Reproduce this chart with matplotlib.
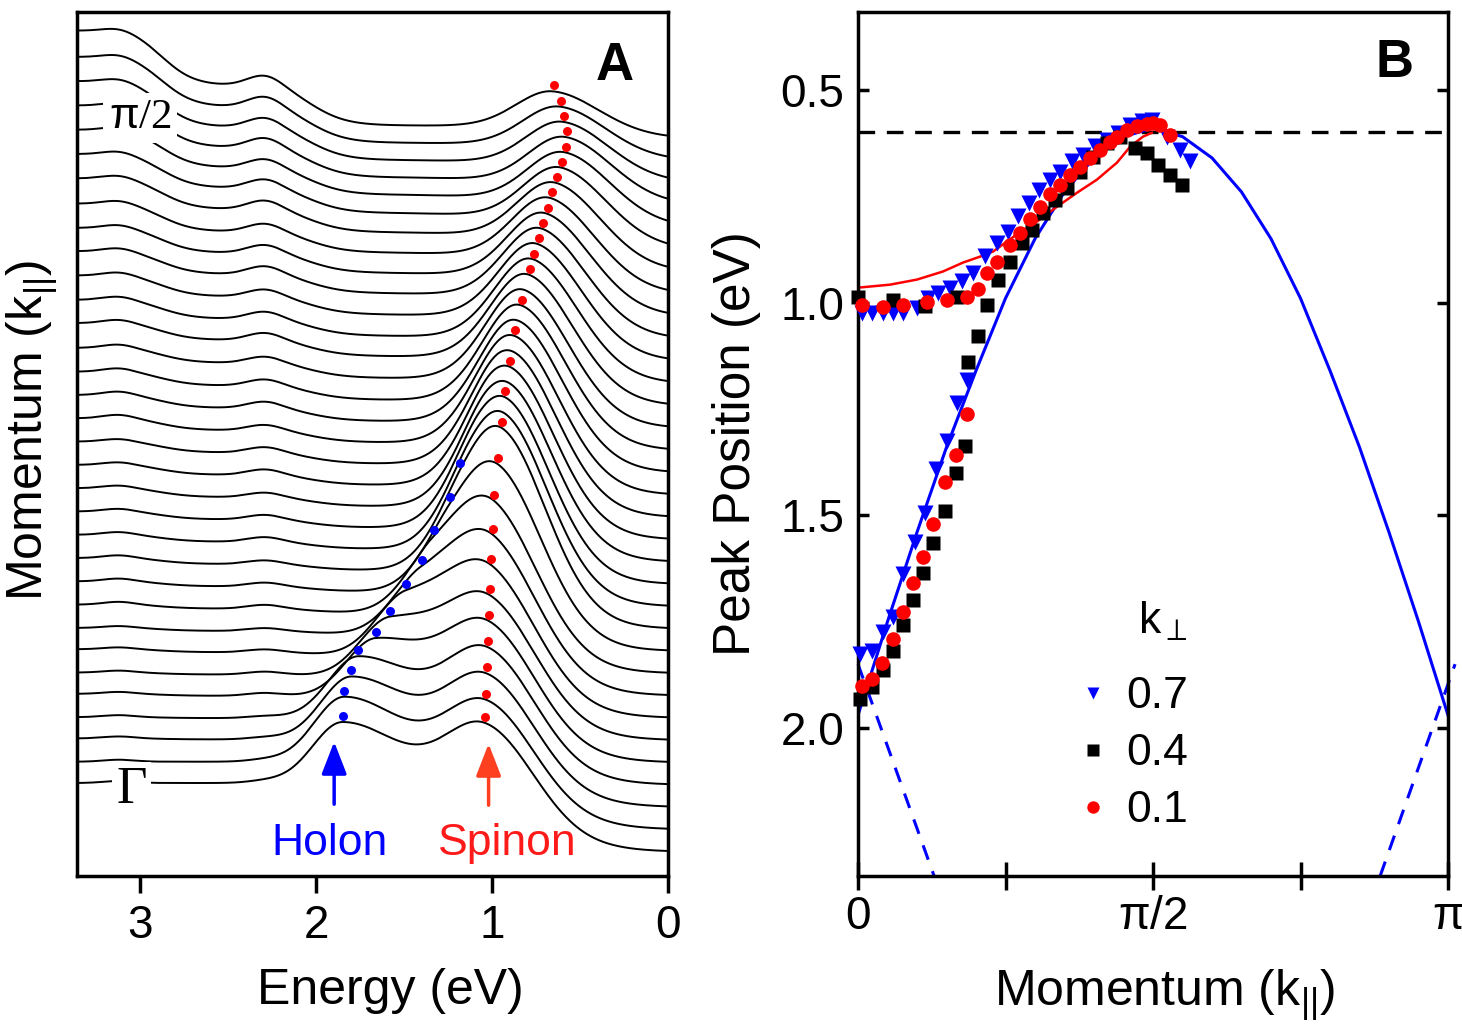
import numpy as np
import matplotlib
matplotlib.use("Agg")
import matplotlib.pyplot as plt
from matplotlib.lines import Line2D

plt.rcParams['font.family'] = ['Liberation Sans', 'DejaVu Sans']
plt.rcParams['mathtext.fontset'] = 'custom'
plt.rcParams['mathtext.rm'] = 'Liberation Sans'
plt.rcParams['mathtext.it'] = 'Liberation Sans'

# ====================== Panel A : EDC waterfall ======================
# one entry per curve, from Gamma (bottom, index 0) to beyond pi/2 (top)
spinon_E = [1.04, 1.035, 1.03, 1.025, 1.02, 1.01, 1.005, 0.995, 0.99, 0.966, 0.945,
            0.935, 0.925, 0.912, 0.90, 0.885, 0.87, 0.85, 0.83, 0.81, 0.785, 0.76,
            0.735, 0.71, 0.685, 0.66, 0.63, 0.60, 0.58, 0.575, 0.59, 0.61, 0.65]
holon_E = [1.85, 1.84, 1.80, 1.76, 1.66, 1.58, 1.49, 1.40, 1.33, 1.24, 1.18,
           1.12, 1.07, 1.02, 0.98, 0.945, 0.91, 0.875, 0.85, 0.83, 0.80, 0.775,
           0.75, 0.725, 0.70, 0.675, 0.645, 0.615, 0.595, 0.59, 0.60, 0.62, 0.655]
spinon_amp = [66.7, 68.5, 72.7, 76.9, 78.5, 79.1, 81.5, 85.3, 93.8, 111, 131,
              125.1, 119.7, 114.9, 110.9, 106.4, 101.8, 97.7, 93.5, 89.2, 85.2, 82.2,
              78.5, 74.7, 71.2, 66.7, 63.2, 58.8, 55, 49.7, 43.7, 38.8, 32.8]
holon_amp = [61, 65, 63.8, 62.7, 58.9, 57.6, 58.5, 53.5, 50.2, 39.5, 30.7,
             28, 26, 24, 22, 21, 20, 19, 18, 17, 16, 15,
             14, 13, 12, 12, 11, 11, 10, 10, 10, 9, 9]
bg_step = [69, 68, 67, 66, 65, 64, 63, 62, 61, 60, 59,
           58, 57, 56, 55, 54, 53, 52, 51, 50.5, 50, 48,
           47, 46, 44, 42, 40, 37, 33, 28, 23, 18, 13]
step_hi = [0, 0, 1, 1, 2, 2, 3, 3, 4, 5, 6,
           7, 8, 9, 10, 11, 12, 13, 14, 15, 17, 19,
           21, 23, 25, 28, 31, 34, 38, 42, 46, 50, 55]
step_mid = [0, 0, 1, 1, 2, 2, 3, 3, 4, 5, 6,
            7, 8, 9, 10, 11, 12, 13, 14, 15, 16, 17,
            18, 19, 20, 21, 23, 25, 27, 30, 33, 36, 40]
bump_hi = [2, 2, 2, 2, 2, 2, 2, 2, 3, 3, 3,
           3, 3, 3, 3, 3, 4, 4, 4, 4, 4, 4,
           4, 4, 4, 4, 4, 4, 4, 4, 4, 4, 4]
bump_mid = [2, 2, 2, 2, 3, 3, 3, 3, 4, 4, 4,
            5, 5, 5, 6, 6, 6, 7, 7, 7, 8, 8,
            8, 9, 9, 9, 10, 10, 10, 11, 11, 12, 12]
spinon_dot_curves = [0, 1, 2, 3, 4, 5, 6, 7, 8, 9, 10, 12, 14, 16, 18,
                     20, 21, 22, 23, 24, 25, 26, 27, 28, 29, 30, 31, 32]
holon_dot_curves = [0, 1, 2, 3, 4, 5, 6, 7, 8, 9, 10]
energy_ticks = [3, 2, 1, 0]

# ====================== Panel B : peak positions ======================
k07 = [0.007, 0.024, 0.042, 0.059, 0.077, 0.100, 0.119, 0.136, 0.156, 0.176, 0.195,
       0.215, 0.235, 0.255, 0.272, 0.289, 0.306, 0.325, 0.342, 0.362, 0.382, 0.402,
       0.422, 0.441, 0.461, 0.481, 0.498, 0.523, 0.546, 0.563,
       0.003, 0.023, 0.043, 0.060, 0.077, 0.097, 0.114, 0.132, 0.150, 0.167, 0.184]
E07 = [1.024, 1.024, 1.024, 1.024, 1.024, 1.012, 0.989, 0.977, 0.965, 0.950, 0.930,
       0.891, 0.860, 0.833, 0.797, 0.766, 0.735, 0.711, 0.692, 0.668, 0.653, 0.633,
       0.617, 0.602, 0.582, 0.574, 0.570, 0.610, 0.641, 0.668,
       1.826, 1.818, 1.775, 1.740, 1.638, 1.564, 1.494, 1.392, 1.326, 1.235, 1.181]
k04 = [0.000, 0.059, 0.114, 0.168, 0.219, 0.237, 0.258, 0.278, 0.295, 0.314, 0.334,
       0.354, 0.376, 0.398, 0.422, 0.444, 0.469, 0.490, 0.508, 0.529, 0.549,
       0.003, 0.024, 0.042, 0.059, 0.076, 0.093, 0.110, 0.127, 0.147, 0.166, 0.181,
       0.186, 0.203]
E04 = [0.986, 0.993, 1.009, 0.986, 1.005, 0.946, 0.904, 0.859, 0.829, 0.789, 0.758,
       0.730, 0.692, 0.657, 0.624, 0.610, 0.636, 0.648, 0.676, 0.700, 0.723,
       1.932, 1.904, 1.864, 1.820, 1.759, 1.700, 1.636, 1.566, 1.491, 1.401, 1.338,
       1.139, 1.078]
k01 = [0.007, 0.042, 0.076, 0.117, 0.151, 0.185, 0.203, 0.219, 0.236, 0.258, 0.275,
       0.292, 0.308, 0.325, 0.342, 0.359, 0.376, 0.393, 0.410, 0.427, 0.439, 0.456,
       0.473, 0.490, 0.500, 0.512, 0.529,
       0.007, 0.024, 0.041, 0.059, 0.076, 0.093, 0.110, 0.127, 0.147, 0.166, 0.184]
E01 = [1.006, 1.011, 1.006, 0.998, 0.993, 0.988, 0.969, 0.930, 0.904, 0.864, 0.836,
       0.803, 0.775, 0.746, 0.723, 0.700, 0.681, 0.660, 0.641, 0.622, 0.610, 0.594,
       0.585, 0.580, 0.578, 0.582, 0.606,
       1.901, 1.885, 1.847, 1.791, 1.728, 1.660, 1.599, 1.521, 1.423, 1.359, 1.263]
holon_theory_k = [0.0, 0.05, 0.1, 0.15, 0.2, 0.25, 0.3, 0.35, 0.4, 0.45, 0.5,
                  0.55, 0.6, 0.65, 0.7, 0.75, 0.8, 0.85, 0.9, 0.95, 1.0]
holon_theory_E = [1.97, 1.75, 1.54, 1.34, 1.16, 0.99, 0.85, 0.74, 0.66, 0.61, 0.59,
                  0.61, 0.66, 0.74, 0.85, 0.99, 1.16, 1.34, 1.54, 1.75, 1.97]
spinon_theory_k = [0.0, 0.054, 0.100, 0.144, 0.178, 0.207, 0.229, 0.269, 0.303, 0.337,
                   0.371, 0.405, 0.439, 0.461, 0.483, 0.498]
spinon_theory_E = [0.965, 0.958, 0.946, 0.927, 0.906, 0.892, 0.880, 0.840, 0.810, 0.775,
                   0.742, 0.711, 0.671, 0.634, 0.610, 0.601]
dash_left_k = [0.0, 0.129]
dash_left_E = [1.85, 2.348]
dash_right_k = [0.885, 1.012]
dash_right_E = [2.348, 1.85]
ref_level_E = 0.598
legend_labels = ['0.7', '0.4', '0.1']

# ====================== figure ======================
W, H = 1462, 1024
fig = plt.figure(figsize=(W / 100, H / 100), dpi=100)
axA = fig.add_axes([77 / W, 148 / H, 591 / W, 864 / H])
axB = fig.add_axes([858 / W, 148 / H, 590 / W, 864 / H])

E = np.linspace(0.0, 3.36, 700)


def logistic(x):
    return 1.0 / (1.0 + np.exp(-x))


def asym_gauss(x, x0, s_hi, s_lo):
    s = np.where(x >= x0, s_hi, s_lo)
    return np.exp(-0.5 * ((x - x0) / s) ** 2)


def spectrum(i, x):
    return (bg_step[i] * logistic((x - 0.72) / 0.17)
            + spinon_amp[i] * asym_gauss(x, spinon_E[i], 0.22, 0.26)
            + holon_amp[i] * asym_gauss(x, holon_E[i], 0.17, 0.32)
            + step_hi[i] * logistic((x - 2.87) / 0.09)
            + step_mid[i] * logistic((x - 2.02) / 0.10)
            + bump_hi[i] * np.exp(-0.5 * ((x - 3.12) / 0.09) ** 2)
            + bump_mid[i] * np.exp(-0.5 * ((x - 2.29) / 0.10) ** 2))


n_curves = len(spinon_E)
base0, spacing = 24.0, 22.3
for i in range(n_curves):
    off = base0 + spacing * i
    axA.plot(E, off + spectrum(i, E), color='black', lw=1.4, zorder=2)

for i in spinon_dot_curves:
    x0 = np.array([spinon_E[i]])
    axA.plot(x0, base0 + spacing * i + spectrum(i, x0) + 6, 'o', color='#ff0000',
             ms=6.5, mec='none', zorder=4)
for i in holon_dot_curves:
    x0 = np.array([holon_E[i]])
    axA.plot(x0, base0 + spacing * i + spectrum(i, x0) + 6, 'o', color='#0000ff',
             ms=6.5, mec='none', zorder=4)

axA.set_xlim(3.36, 0)
axA.set_ylim(0, 864)
axA.set_xticks(energy_ticks)
axA.set_xticklabels([str(t) for t in energy_ticks])
axA.set_yticks([])
axA.tick_params(axis='x', direction='out', length=12, width=2.5, labelsize=33, pad=8)
for s in axA.spines.values():
    s.set_linewidth(2.5)

axA.text(3.0, 758, r'$\pi$/2', family='Liberation Serif', fontsize=31, ha='center', va='center',
         zorder=5, bbox=dict(facecolor='white', edgecolor='none', pad=4))
axA.text(3.05, 86, 'Γ', family='Liberation Serif', fontsize=38, ha='center', va='center',
         zorder=5, bbox=dict(facecolor='white', edgecolor='none', pad=3))
axA.text(0.30, 796, 'A', fontsize=38, fontweight='bold', ha='center', va='baseline')

axA.annotate('', xy=(1.898, 137), xytext=(1.898, 69),
             arrowprops=dict(arrowstyle='-|>,head_length=0.9,head_width=0.35',
                             color='#0000ff', lw=2.5, mutation_scale=22))
axA.annotate('', xy=(1.02, 135), xytext=(1.02, 68),
             arrowprops=dict(arrowstyle='-|>,head_length=0.9,head_width=0.35',
                             color='#ff4020', lw=2.5, mutation_scale=22))
axA.text(1.923, 21, 'Holon', color='#0000ff', fontsize=32, ha='center', va='baseline')
axA.text(0.915, 21, 'Spinon', color='#ff1a1a', fontsize=32, ha='center', va='baseline')

axA.set_xlabel('Energy (eV)', fontsize=36)
axA.xaxis.set_label_coords(0.53, -0.106)
axA.set_ylabel(r'Momentum (k$_{||}$)', fontsize=36)
axA.yaxis.set_label_coords(-0.028, 0.516)

# ---------------- Panel B ----------------
pi = np.pi
axB.plot(np.array(holon_theory_k) * pi, holon_theory_E, color='#0000ff', lw=2.2, zorder=2)
axB.plot(np.array(spinon_theory_k) * pi, spinon_theory_E, color='#ff0000', lw=1.8, zorder=2)
axB.plot(np.array(dash_left_k) * pi, dash_left_E, color='#0000ff', lw=2.2,
         ls=(0, (5, 4)), zorder=2, clip_on=False)
axB.plot(np.array(dash_right_k) * pi, dash_right_E, color='#0000ff', lw=2.2,
         ls=(0, (5, 4)), zorder=2, clip_on=False)
axB.axhline(ref_level_E, color='black', lw=2.4, ls=(0, (5, 3.5)), zorder=1)

axB.plot(np.array(k07) * pi, E07, 'v', color='#0000ff', ms=11, mec='none',
         zorder=3, clip_on=False)
axB.plot(np.array(k04) * pi, E04, 's', color='black', ms=9.5, mec='none',
         zorder=4, clip_on=False)
axB.plot(np.array(k01) * pi, E01, 'o', color='#ff0000', ms=10.5, mec='none',
         zorder=5, clip_on=False)

axB.set_xlim(0, pi)
axB.set_ylim(2.348, 0.317)
axB.set_xticks([0, pi / 4, pi / 2, 3 * pi / 4, pi])
axB.set_xticklabels(['0', '', r'$\pi$/2', '', r'$\pi$'])
axB.set_yticks([0.5, 1.0, 1.5, 2.0])
axB.set_yticklabels(['0.5', '1.0', '1.5', '2.0'])
axB.tick_params(axis='x', direction='inout', length=20, width=2.5, labelsize=33, pad=4)
axB.tick_params(axis='y', direction='in', length=8, width=2.5, labelsize=33, pad=10,
                right=True)
for s in axB.spines.values():
    s.set_linewidth(2.5)

axB.text(0.91 * pi, 0.4695, 'B', fontsize=38, fontweight='bold', ha='center', va='baseline')

handles = [Line2D([], [], ls='none', marker='v', color='#0000ff', ms=11, mec='none'),
           Line2D([], [], ls='none', marker='s', color='black', ms=9.5, mec='none'),
           Line2D([], [], ls='none', marker='o', color='#ff0000', ms=10.5, mec='none')]
leg = axB.legend(handles, legend_labels, title=r'k$_{\perp}$', loc='upper left',
                 bbox_to_anchor=(0.30, 0.366), frameon=False, fontsize=32,
                 title_fontsize=32, handlelength=0.8, handletextpad=0.35,
                 labelspacing=0.36, markerscale=0.85, alignment='right')
leg._legend_box.sep = 24

axB.set_xlabel(r'Momentum (k$_{||}$)', fontsize=36)
axB.xaxis.set_label_coords(0.52, -0.106)
axB.set_ylabel('Peak Position (eV)', fontsize=37)
axB.yaxis.set_label_coords(-0.165, 0.5)

fig.savefig('out.png', dpi=100)
